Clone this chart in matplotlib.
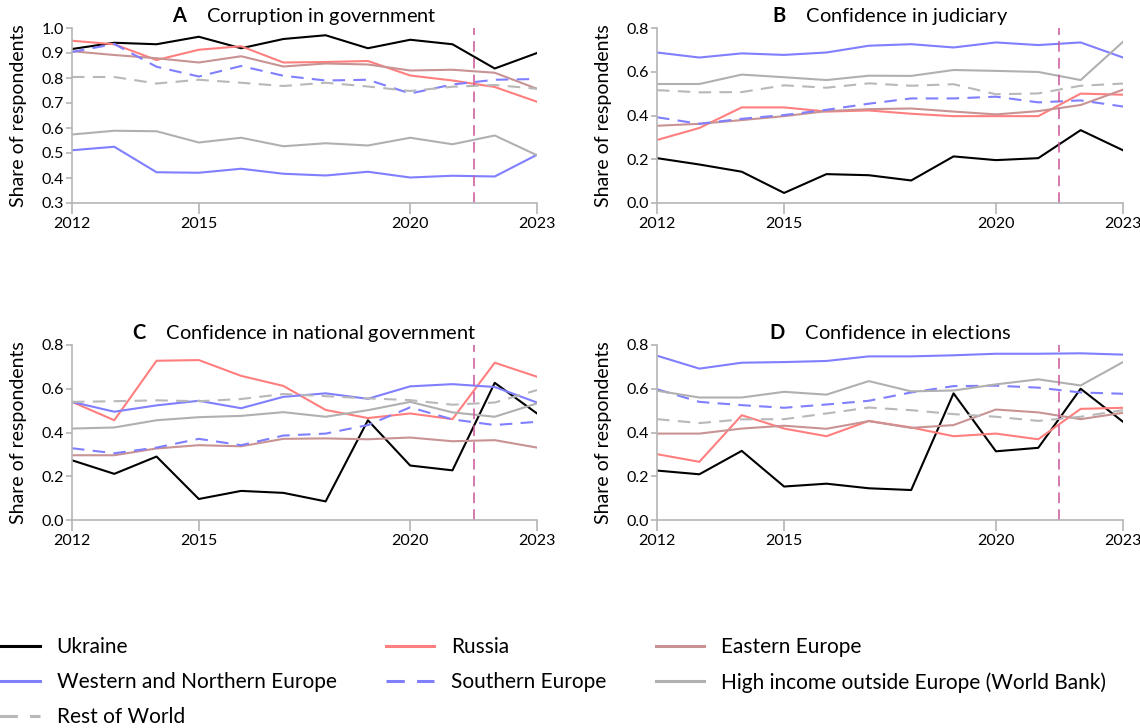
import numpy as np
import matplotlib
matplotlib.use("Agg")
import matplotlib.pyplot as plt

plt.rcParams['font.family'] = ['Lato', 'DejaVu Sans']
plt.rcParams['mathtext.fontset'] = 'custom'
plt.rcParams['mathtext.rm'] = 'Lato'
plt.rcParams['mathtext.bf'] = 'Lato:bold'

years = np.arange(2012, 2024)

series_names = ["Ukraine", "Russia", "Eastern Europe", "Western and Northern Europe",
                "Southern Europe", "High income outside Europe (World Bank)", "Rest of World"]

# A: corruption in government
a_ukraine = [0.916, 0.941, 0.935, 0.965, 0.919, 0.956, 0.971, 0.919, 0.953, 0.935, 0.838, 0.900]
a_russia = [0.949, 0.935, 0.872, 0.913, 0.927, 0.862, 0.864, 0.868, 0.810, 0.790, 0.764, 0.705]
a_eastern = [0.907, 0.892, 0.879, 0.862, 0.887, 0.846, 0.858, 0.854, 0.830, 0.833, 0.821, 0.757]
a_western = [0.511, 0.525, 0.423, 0.421, 0.437, 0.417, 0.410, 0.425, 0.402, 0.409, 0.406, 0.493]
a_southern = [0.904, 0.936, 0.845, 0.806, 0.848, 0.809, 0.790, 0.793, 0.738, 0.774, 0.793, 0.796]
a_highinc = [0.574, 0.589, 0.587, 0.542, 0.561, 0.527, 0.539, 0.530, 0.561, 0.535, 0.570, 0.491]
a_rest = [0.804, 0.804, 0.778, 0.793, 0.781, 0.768, 0.781, 0.766, 0.748, 0.765, 0.772, 0.757]

# B: confidence in judiciary
b_ukraine = [0.205, 0.176, 0.143, 0.046, 0.132, 0.127, 0.103, 0.213, 0.196, 0.205, 0.333, 0.241]
b_russia = [0.288, 0.343, 0.437, 0.437, 0.418, 0.423, 0.408, 0.397, 0.397, 0.397, 0.500, 0.495]
b_eastern = [0.353, 0.362, 0.379, 0.397, 0.420, 0.429, 0.432, 0.418, 0.405, 0.420, 0.448, 0.518]
b_western = [0.688, 0.665, 0.684, 0.677, 0.688, 0.719, 0.726, 0.711, 0.734, 0.722, 0.734, 0.665]
b_southern = [0.392, 0.362, 0.385, 0.402, 0.426, 0.454, 0.478, 0.478, 0.486, 0.460, 0.469, 0.441]
b_highinc = [0.544, 0.544, 0.587, 0.575, 0.562, 0.582, 0.581, 0.608, 0.604, 0.599, 0.562, 0.737]
b_rest = [0.516, 0.506, 0.507, 0.538, 0.527, 0.547, 0.536, 0.543, 0.497, 0.501, 0.536, 0.546]

# C: confidence in national government
c_ukraine = [0.273, 0.211, 0.290, 0.096, 0.133, 0.124, 0.085, 0.456, 0.249, 0.227, 0.627, 0.487]
c_russia = [0.540, 0.456, 0.728, 0.731, 0.659, 0.613, 0.503, 0.466, 0.487, 0.461, 0.719, 0.655]
c_eastern = [0.296, 0.296, 0.327, 0.342, 0.337, 0.371, 0.373, 0.369, 0.377, 0.360, 0.365, 0.331]
c_western = [0.540, 0.495, 0.524, 0.545, 0.511, 0.563, 0.579, 0.554, 0.611, 0.621, 0.608, 0.537]
c_southern = [0.328, 0.305, 0.331, 0.371, 0.342, 0.386, 0.395, 0.434, 0.515, 0.460, 0.434, 0.449]
c_highinc = [0.418, 0.423, 0.456, 0.470, 0.476, 0.493, 0.472, 0.502, 0.540, 0.492, 0.472, 0.533]
c_rest = [0.540, 0.543, 0.547, 0.543, 0.553, 0.576, 0.566, 0.556, 0.548, 0.527, 0.537, 0.594]

# D: confidence in elections
d_ukraine = [0.226, 0.209, 0.316, 0.153, 0.166, 0.145, 0.137, 0.579, 0.314, 0.330, 0.600, 0.449]
d_russia = [0.301, 0.266, 0.479, 0.418, 0.383, 0.453, 0.423, 0.383, 0.395, 0.369, 0.508, 0.513]
d_eastern = [0.395, 0.395, 0.418, 0.431, 0.417, 0.452, 0.421, 0.434, 0.505, 0.492, 0.461, 0.490]
d_western = [0.751, 0.692, 0.719, 0.722, 0.727, 0.748, 0.748, 0.753, 0.760, 0.760, 0.762, 0.756]
d_southern = [0.598, 0.540, 0.525, 0.513, 0.528, 0.545, 0.583, 0.612, 0.614, 0.605, 0.583, 0.577]
d_highinc = [0.591, 0.560, 0.560, 0.586, 0.573, 0.635, 0.588, 0.592, 0.620, 0.643, 0.615, 0.722]
d_rest = [0.461, 0.443, 0.460, 0.461, 0.487, 0.514, 0.502, 0.484, 0.472, 0.453, 0.472, 0.502]

panel_letters = ["A", "B", "C", "D"]
panel_titles = ["Corruption in government", "Confidence in judiciary",
                "Confidence in national government", "Confidence in elections"]
panel_data = [
    [a_ukraine, a_russia, a_eastern, a_western, a_southern, a_highinc, a_rest],
    [b_ukraine, b_russia, b_eastern, b_western, b_southern, b_highinc, b_rest],
    [c_ukraine, c_russia, c_eastern, c_western, c_southern, c_highinc, c_rest],
    [d_ukraine, d_russia, d_eastern, d_western, d_southern, d_highinc, d_rest],
]
panel_ylims = [(0.3, 1.0), (0.0, 0.8), (0.0, 0.8), (0.0, 0.8)]
panel_yticks = [np.arange(0.3, 1.01, 0.1), np.arange(0, 0.81, 0.2),
                np.arange(0, 0.81, 0.2), np.arange(0, 0.81, 0.2)]
invasion_x = 2021.5

styles = [
    dict(color="#000000", ls="-"),
    dict(color="#ff7f7f", ls="-"),
    dict(color="#c99393", ls="-"),
    dict(color="#7f7fff", ls="-"),
    dict(color="#7f7fff", ls=(0, (6, 4))),
    dict(color="#b0b0b0", ls="-"),
    dict(color="#b8b8b8", ls=(0, (6, 4))),
]

fig = plt.figure(figsize=(11.4, 7.28), dpi=100)
W, H = 1140, 728
boxes = [(72, 28, 537, 203), (657, 28, 1123, 203),
         (72, 345, 537, 520), (657, 345, 1123, 520)]
spine_col = "#b5b5b5"

lines = []
for i, (x0, y0, x1, y1) in enumerate(boxes):
    ax = fig.add_axes([x0 / W, 1 - y1 / H, (x1 - x0) / W, (y1 - y0) / H])
    for j, vals in enumerate(panel_data[i]):
        ln, = ax.plot(years, vals, lw=1.5, **styles[j], label=series_names[j])
        if i == 0:
            lines.append(ln)
    ax.axvline(invasion_x, color="#cc5599", lw=1.1, ls=(0, (7, 4)))
    ax.set_xlim(2012, 2023)
    ax.set_ylim(*panel_ylims[i])
    ax.set_xticks([2012, 2015, 2020, 2023])
    ax.set_yticks(panel_yticks[i])
    ax.set_yticklabels([f"{v:.1f}" for v in panel_yticks[i]])
    for s in ["top", "right"]:
        ax.spines[s].set_visible(False)
    for s in ["left", "bottom"]:
        ax.spines[s].set_color(spine_col)
        ax.spines[s].set_linewidth(1.2)
    ax.tick_params(axis="x", length=8, color=spine_col, width=1.2, labelsize=11.5, pad=2)
    ax.tick_params(axis="y", length=4, color=spine_col, width=1.2, labelsize=11.5, pad=2)
    ax.set_ylabel("Share of respondents", fontsize=14, labelpad=10)
    ax.set_title(r"$\bf{" + panel_letters[i] + "}$" + "    " + panel_titles[i],
                 fontsize=14.4, pad=4)

order = [0, 3, 6, 1, 4, 2, 5]
leg = fig.legend([lines[k] for k in order], [series_names[k] for k in order],
                 loc="upper left", bbox_to_anchor=(-8 / W, 1 - 637 / H), ncol=3,
                 frameon=False, fontsize=15, handlelength=2.3, handletextpad=0.8,
                 columnspacing=2.4, labelspacing=0.72, borderpad=0, borderaxespad=0)
for h in leg.get_lines():
    h.set_linewidth(2.2)

fig.savefig("out.png", dpi=100)
